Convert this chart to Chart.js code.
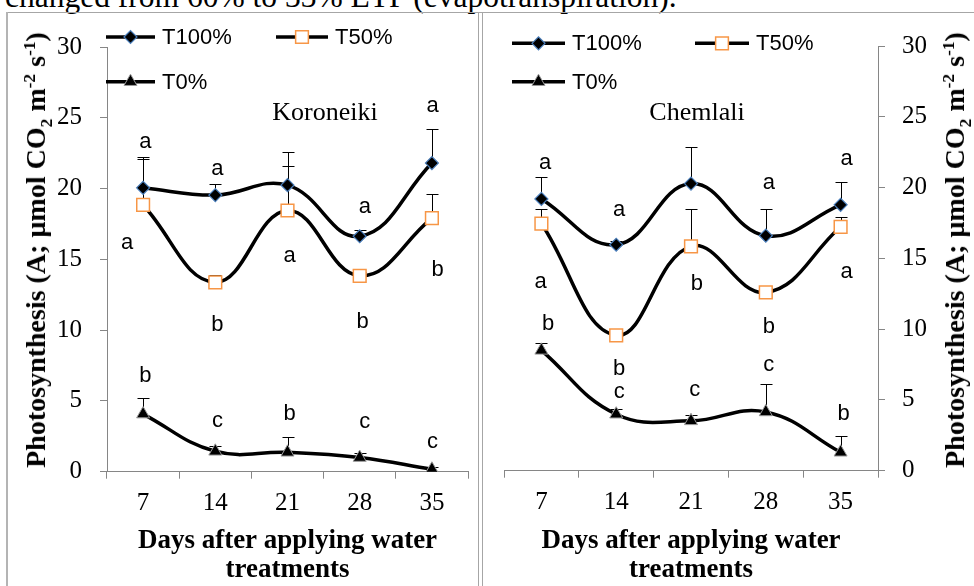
<!DOCTYPE html>
<html>
<head>
<meta charset="utf-8">
<script src="https://cdn.jsdelivr.net/npm/chart.js@4.4.0/dist/chart.umd.min.js"></script>
<style>
  body {
    margin: 0;
    background: #fff;
    width: 974px;
    height: 586px;
    overflow: hidden;
    position: relative;
    font-family: "Liberation Serif", "Times New Roman", serif;
  }
  .caption {
    position: absolute;
    left: 5px;
    top: -19px;
    font-size: 31.5px;
    line-height: 31.5px;
    white-space: nowrap;
    color: #000;
  }
  .rule { position: absolute; background: #a6a6a6; }
  canvas { position: absolute; top: 14px; }
  #koroneiki { left: 8px; }
  #chemlali { left: 484px; }
  .ytitle {
    position: absolute;
    font-weight: bold;
    font-size: 28px;
    line-height: 28px;
    white-space: nowrap;
    color: #000;
    transform: translate(-50%, -50%) rotate(-90deg);
  }
  .ytitle sub, .ytitle sup { font-size: 0.62em; line-height: 0; }
</style>
</head>
<body>
<div class="caption">changed from 60% to 33% ETP (evapotranspiration).</div>
<div class="rule" style="left:7px; top:12px; width:967px; height:1px;"></div>
<div class="rule" style="left:6px; top:12px; width:2px; height:574px; background:#b4b4b4;"></div>
<div class="rule" style="left:478px; top:12px; width:1px; height:574px;"></div>
<div class="rule" style="left:482px; top:12px; width:1px; height:574px;"></div>

<canvas id="koroneiki" width="490" height="572"></canvas>
<canvas id="chemlali" width="490" height="572"></canvas>

<div class="ytitle" style="left:36px; top:250px;">Photosynthesis (A; µmol CO<sub>2</sub> m<sup>-2</sup> s<sup>-1</sup>)</div>
<div class="ytitle" style="left:955px; top:250px;">Photosynthesis (A; µmol CO<sub>2</sub> m<sup>-2</sup> s<sup>-1</sup>)</div>

<script>
  // Days after applying water treatments
  const days = ["7", "14", "21", "28", "35"];

  // Koroneiki
  const koroT100 = [20.05, 19.54, 20.24, 16.63, 21.8];
  const koroT100Err = [2.15, 0.75, 2.36, 0.47, 2.44];
  const koroT50 = [18.84, 13.38, 18.45, 13.84, 17.91];
  const koroT50Err = [3.25, 0.5, 3.11, 0.3, 1.68];
  const koroT0 = [4.07, 1.44, 1.37, 1.0, 0.17];
  const koroT0Err = [1.16, 0.35, 1.07, 0.35, 0.15];
  const koroT100Sig = ["a", "a", "", "a", "a"];
  const koroT50Sig = ["a", "b", "a", "b", "b"];
  const koroT0Sig = ["b", "c", "b", "c", "c"];

  // Chemlali
  const chemT100 = [19.2, 15.96, 20.28, 16.6, 18.78];
  const chemT100Err = [1.53, 0.25, 2.59, 1.86, 1.62];
  const chemT50 = [17.46, 9.56, 15.85, 12.6, 17.23];
  const chemT50Err = [1.06, 0.2, 2.67, 0.3, 0.66];
  const chemT0 = [8.5, 3.99, 3.52, 4.15, 1.3];
  const chemT0Err = [0.51, 0.4, 0.4, 2.0, 1.14];
  const chemT100Sig = ["a", "a", "", "a", "a"];
  const chemT50Sig = ["a", "b", "b", "b", "a"];
  const chemT0Sig = ["b", "c", "c", "c", "b"];

  const yMin = 0;
  const yMax = 30;
  const yStep = 5;

  const SERIF = "'Liberation Serif', 'Times New Roman', serif";
  const SANS = "'Liberation Sans', Arial, sans-serif";
  const AXIS = "#868686";

  Chart.defaults.font.family = SERIF;
  Chart.defaults.color = "#000";

  function series(label, values, errs, sig, marker) {
    return Object.assign(
      {
        label: label,
        data: values,
        errorPlus: errs,
        sig: sig,
        borderColor: "#000",
        borderWidth: 3.5,
        tension: 0.42,
        fill: false,
      },
      marker
    );
  }

  const markT100 = {
    pointStyle: "rectRot",
    pointRadius: 6.5,
    pointBackgroundColor: "#000",
    pointBorderColor: "#4a7ebb",
    pointBorderWidth: 1.2,
  };
  const markT50 = {
    pointStyle: "rect",
    pointRadius: 9,
    pointBackgroundColor: "#fff",
    pointBorderColor: "#f79646",
    pointBorderWidth: 1.5,
  };
  const markT0 = {
    pointStyle: "triangle",
    pointRadius: 7.5,
    pointBackgroundColor: "#000",
    pointBorderColor: "#9a9a9a",
    pointBorderWidth: 1,
  };

  // Error bars (upper side only), drawn under the markers
  const errorBars = {
    id: "errorBars",
    beforeDatasetsDraw(chart) {
      const ctx = chart.ctx;
      const y = chart.scales.y;
      ctx.save();
      ctx.strokeStyle = "#000";
      ctx.lineWidth = 1;
      chart.data.datasets.forEach(function (ds, i) {
        const meta = chart.getDatasetMeta(i);
        ds.data.forEach(function (v, j) {
          const pt = meta.data[j];
          const top = Math.round(y.getPixelForValue(v + ds.errorPlus[j])) + 0.5;
          const x = Math.round(pt.x) + 0.5;
          ctx.beginPath();
          ctx.moveTo(x, pt.y);
          ctx.lineTo(x, top);
          ctx.moveTo(x - 6, top);
          ctx.lineTo(x + 6, top);
          ctx.stroke();
        });
      });
      ctx.restore();
    },
  };

  // Significance letters, legend and panel title
  const panelDeco = {
    id: "panelDeco",
    afterDraw(chart, args, opts) {
      const ctx = chart.ctx;
      const xs = chart.scales.x;
      const ys = chart.scales.y;
      ctx.save();

      // letters
      ctx.font = "22px " + SANS;
      ctx.fillStyle = "#000";
      ctx.textAlign = "center";
      ctx.textBaseline = "alphabetic";
      chart.data.datasets.forEach(function (ds, i) {
        ds.sig.forEach(function (s, j) {
          if (!s) return;
          const spot = opts.spots[i][j];
          const m = ctx.measureText(s);
          const px = xs.getPixelForValue(j + spot[0]);
          const py = ys.getPixelForValue(spot[1]);
          ctx.fillText(s, px, py + (m.actualBoundingBoxAscent - m.actualBoundingBoxDescent) / 2);
        });
      });

      // legend
      opts.legend.forEach(function (item) {
        const ds = chart.data.datasets[item.ds];
        ctx.strokeStyle = "#000";
        ctx.lineWidth = 3.5;
        ctx.beginPath();
        ctx.moveTo(item.x1, item.y);
        ctx.lineTo(item.x2, item.y);
        ctx.stroke();
        ctx.fillStyle = ds.pointBackgroundColor;
        ctx.strokeStyle = ds.pointBorderColor;
        ctx.lineWidth = ds.pointBorderWidth;
        Chart.helpers.drawPoint(
          ctx,
          { pointStyle: ds.pointStyle, radius: ds.pointRadius, rotation: 0, borderWidth: ds.pointBorderWidth },
          (item.x1 + item.x2) / 2,
          item.y
        );
        ctx.fillStyle = "#000";
        ctx.font = "22px " + SANS;
        ctx.textAlign = "left";
        ctx.textBaseline = "middle";
        ctx.fillText(ds.label, item.x2 + 7, item.y + 1);
      });

      // panel title
      ctx.font = "26px " + SERIF;
      ctx.textAlign = "center";
      ctx.textBaseline = "middle";
      ctx.fillText(opts.title, opts.titleX, opts.titleY);
      ctx.restore();
    },
  };

  function makePanel(id, cfg) {
    return new Chart(document.getElementById(id), {
      type: "line",
      data: {
        labels: days,
        datasets: [
          series("T100%", cfg.t100, cfg.t100Err, cfg.t100Sig, markT100),
          series("T50%", cfg.t50, cfg.t50Err, cfg.t50Sig, markT50),
          series("T0%", cfg.t0, cfg.t0Err, cfg.t0Sig, markT0),
        ],
      },
      options: {
        responsive: false,
        devicePixelRatio: 1,
        animation: false,
        events: [],
        layout: { padding: cfg.padding },
        plugins: {
          legend: { display: false },
          tooltip: { enabled: false },
          panelDeco: {
            title: cfg.title,
            titleX: cfg.titleX,
            titleY: cfg.titleY,
            legend: cfg.legend,
            spots: cfg.spots,
          },
        },
        scales: {
          x: {
            type: "category",
            offset: true,
            grid: { offset: true, drawOnChartArea: false, tickLength: 7, color: AXIS },
            border: { color: AXIS, width: 1 },
            ticks: { color: "#000", font: { size: 25, family: SERIF }, padding: 10 },
            title: {
              display: true,
              text: ["Days after applying water", "treatments"],
              color: "#000",
              font: { size: 27, weight: "bold", family: SERIF, lineHeight: 1.05 },
              padding: { top: 0, bottom: 2 },
            },
            afterFit(s) {
              s.height = cfg.xHeight;
            },
          },
          y: {
            position: cfg.yPos,
            min: yMin,
            max: yMax,
            grid: { drawOnChartArea: false, tickLength: 7, color: AXIS },
            border: { color: AXIS, width: 1 },
            ticks: { stepSize: yStep, color: "#000", font: { size: 25, family: SERIF }, padding: cfg.yPad },
            afterFit(s) {
              s.width = cfg.yWidth;
            },
          },
        },
      },
      plugins: [errorBars, panelDeco],
    });
  }

  makePanel("koroneiki", {
    t100: koroT100, t100Err: koroT100Err, t100Sig: koroT100Sig,
    t50: koroT50, t50Err: koroT50Err, t50Sig: koroT50Sig,
    t0: koroT0, t0Err: koroT0Err, t0Sig: koroT0Sig,
    title: "Koroneiki", titleX: 317, titleY: 99,
    padding: { left: 0, top: 28.5, right: 30, bottom: 0 },
    xHeight: 114.3, yWidth: 99, yPos: "left", yPad: 18,
    legend: [
      { ds: 0, x1: 98, x2: 147, y: 23 },
      { ds: 1, x1: 268, x2: 320, y: 23 },
      { ds: 2, x1: 98, x2: 147, y: 67.7 },
    ],
    spots: [
      [[0.03, 23.29], [0.03, 21.4], null, [0.07, 18.73], [0.01, 25.8]],
      [[-0.22, 16.17], [0.03, 10.47], [0.03, 15.24], [0.04, 10.7], [0.08, 14.42]],
      [[0.03, 6.87], [0.03, 3.6], [0.03, 4.19], [0.07, 3.49], [0.01, 2.09]],
    ],
  });

  makePanel("chemlali", {
    t100: chemT100, t100Err: chemT100Err, t100Sig: chemT100Sig,
    t50: chemT50, t50Err: chemT50Err, t50Sig: chemT50Sig,
    t0: chemT0, t0Err: chemT0Err, t0Sig: chemT0Sig,
    title: "Chemlali", titleX: 213, titleY: 99,
    padding: { left: 20, top: 30.7, right: 0, bottom: 0 },
    xHeight: 115.3, yWidth: 96, yPos: "right", yPad: 17,
    legend: [
      { ds: 0, x1: 28, x2: 81, y: 29.3 },
      { ds: 1, x1: 211, x2: 265, y: 29.3 },
      { ds: 2, x1: 28, x2: 81, y: 67.7 },
    ],
    spots: [
      [[0.05, 21.76], [0.04, 18.43], null, [0.04, 20.35], [0.08, 22.0]],
      [[-0.01, 13.31], [0.04, 7.32], [0.08, 13.31], [0.04, 10.26], [0.08, 14.01]],
      [[0.09, 10.49], [0.04, 5.56], [0.05, 5.68], [0.04, 7.44], [0.04, 4.15]],
    ],
  });
</script>
</body>
</html>
